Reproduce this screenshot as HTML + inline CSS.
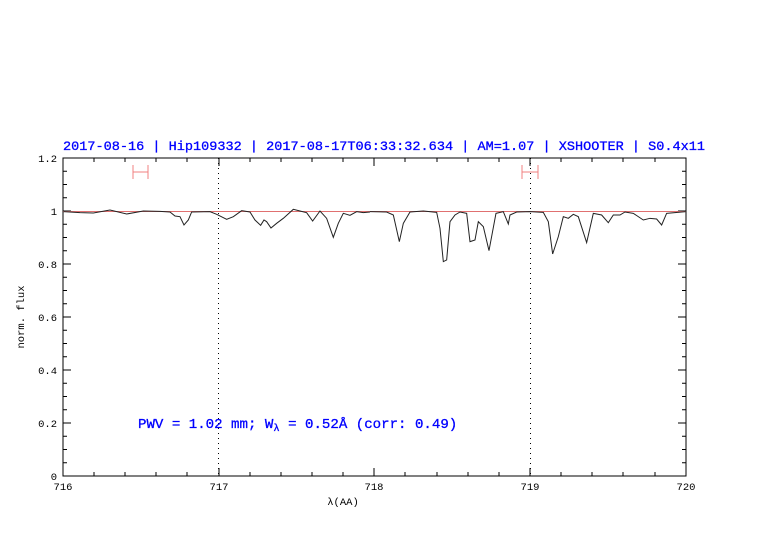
<!DOCTYPE html>
<html><head><meta charset="utf-8"><style>
body{margin:0;background:#fff}
svg{display:block}
text{font-family:"Liberation Mono",monospace}
</style></head><body>
<svg width="782" height="542" viewBox="0 0 782 542" xmlns="http://www.w3.org/2000/svg">
<rect width="782" height="542" fill="#fff"/>
<text x="63" y="150" fill="#0000ff" stroke="#0000ff" stroke-width="0.3" font-size="13.3" textLength="642" lengthAdjust="spacingAndGlyphs">2017-08-16 | Hip109332 | 2017-08-17T06:33:32.634 | AM=1.07 | XSHOOTER | S0.4x11</text>
<g stroke="#000" stroke-width="1" fill="none">
<rect x="63" y="158" width="623" height="318"/>
<path d="M63,158v8M94,158v4M125,158v4M156,158v4M187,158v4M219,158v8M250,158v4M281,158v4M312,158v4M343,158v4M374,158v8M405,158v4M437,158v4M468,158v4M499,158v4M530,158v8M561,158v4M592,158v4M623,158v4M655,158v4M686,158v8
M63,476v-8M94,476v-4M125,476v-4M156,476v-4M187,476v-4M219,476v-8M250,476v-4M281,476v-4M312,476v-4M343,476v-4M374,476v-8M405,476v-4M437,476v-4M468,476v-4M499,476v-4M530,476v-8M561,476v-4M592,476v-4M623,476v-4M655,476v-4M686,476v-8"/>
<path d="M63,476h8M63,462.75h4M63,449.5h4M63,436.25h4M63,423h8M63,409.75h4M63,396.5h4M63,383.25h4M63,370h8M63,356.75h4M63,343.5h4M63,330.25h4M63,317h8M63,303.75h4M63,290.5h4M63,277.25h4M63,264h8M63,250.75h4M63,237.5h4M63,224.25h4M63,211h8M63,197.75h4M63,184.5h4M63,171.25h4M63,158h8
M686,476h-8M686,462.75h-4M686,449.5h-4M686,436.25h-4M686,423h-8M686,409.75h-4M686,396.5h-4M686,383.25h-4M686,370h-8M686,356.75h-4M686,343.5h-4M686,330.25h-4M686,317h-8M686,303.75h-4M686,290.5h-4M686,277.25h-4M686,264h-8M686,250.75h-4M686,237.5h-4M686,224.25h-4M686,211h-8M686,197.75h-4M686,184.5h-4M686,171.25h-4M686,158h-8"/>
</g>
<g stroke="#000" stroke-width="1" stroke-dasharray="1,4">
<line x1="218.5" y1="158" x2="218.5" y2="476"/>
<line x1="530.5" y1="158" x2="530.5" y2="476"/>
</g>
<line x1="63" y1="211.5" x2="686" y2="211.5" stroke="#e07070" stroke-width="1"/>
<g fill="none" stroke="#222" stroke-width="1">
<polyline vector-effect="non-scaling-stroke" transform="translate(60,150) scale(0.3333)" points="10,185 60,188 100,189 150,180 200,192 250,183 300,184 330,186 345,198 360,200 372,225 385,210 395,186 450,185 470,193 500,208 520,200 545,182 570,186 585,210 602,226 612,210 620,215 633,234 650,220 670,205 700,178 720,183 740,188 758,213 780,183 800,205 820,262 835,220 850,190 870,196 890,185 910,188 930,186"/>
<polyline vector-effect="non-scaling-stroke" transform="translate(370,150) scale(0.3333)" points="0,185 50,186 70,195 88,275 100,220 120,186 160,183 200,187 210,235 220,335 230,330 240,215 255,195 270,186 290,190 300,275 315,270 325,215 340,230 357,302 378,190 400,185 415,222 420,195 440,186 480,185 520,187 535,215 548,312 565,260 580,200 595,205 610,193 625,200 650,278 670,190 695,195 715,218 730,195 750,195 765,186 790,190 820,210 840,205 860,207 875,225 890,190 948,185"/>
</g>
<g stroke="#f08080" stroke-width="1">
<path d="M133,172h15M133,165v14M148,165v14"/>
<path d="M522,172h16M522,165v14M538,165v14"/>
</g>
<g font-size="10.5" fill="#000" text-anchor="middle">
<text x="63" y="490">716</text><text x="219" y="490">717</text><text x="374" y="490">718</text><text x="530" y="490">719</text><text x="686" y="490">720</text>
<text x="343" y="505">λ(AA)</text>
</g>
<g font-size="10.5" fill="#000" text-anchor="end">
<text x="57" y="480">0</text><text x="57" y="427">0.2</text><text x="57" y="374">0.4</text><text x="57" y="321">0.6</text><text x="57" y="268">0.8</text><text x="57" y="215">1</text><text x="57" y="162">1.2</text>
</g>
<text transform="translate(24,317) rotate(-90)" font-size="10.5" text-anchor="middle">norm. flux</text>
<text x="138" y="428" fill="#0000ff" stroke="#0000ff" stroke-width="0.3" font-size="14.1">PWV = 1.02 mm; W<tspan font-size="10.5" dy="3">λ</tspan><tspan dy="-3"> = 0.52Å (corr: 0.49)</tspan></text>
</svg>
</body></html>
